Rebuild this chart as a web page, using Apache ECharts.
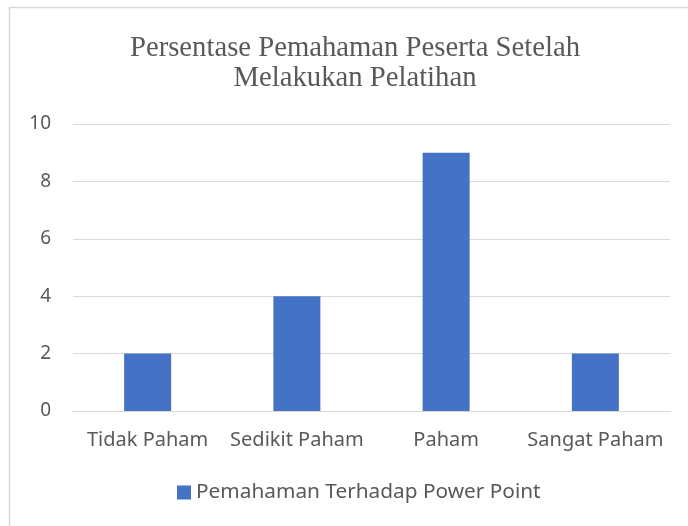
<!DOCTYPE html>
<html>
<head>
<meta charset="utf-8">
<script src="https://cdn.jsdelivr.net/npm/echarts@6/dist/echarts.min.js"></script>
<style>
  html, body { margin: 0; padding: 0; background: #fff; }
  #chart { width: 688px; height: 526px; }
</style>
</head>
<body>
<div id="chart"></div>
<script>
// data
const titleLines = ['Persentase Pemahaman Peserta Setelah', 'Melakukan Pelatihan'];
const categories = ['Tidak Paham', 'Sedikit Paham', 'Paham', 'Sangat Paham'];
const seriesName = 'Pemahaman Terhadap Power Point';
const values = [2, 4, 9, 2];
const yTicks = { min: 0, max: 10, interval: 2 };

const myChart = echarts.init(document.getElementById('chart'));
const textColor = '#595959';
const sans = 'Noto Sans';

let option = {
  animation: false,
  title: {
    text: titleLines.join('\n'),
    left: 350,
    textAlign: 'center',
    top: 28,
    textStyle: {
      fontFamily: 'Liberation Serif',
      fontSize: 28.7,
      fontWeight: 'normal',
      color: textColor,
      lineHeight: 30
    }
  },
  graphic: [{
    type: 'rect',
    shape: { x: 9.5, y: 7.5, width: 700, height: 540 },
    style: { fill: 'none', stroke: '#d9d9d9', lineWidth: 1.5 },
    silent: true
  }],
  legend: {
    data: [seriesName],
    bottom: 18,
    left: 172,
    itemWidth: 14,
    itemHeight: 14,
    itemGap: 6,
    icon: 'rect',
    textStyle: { fontFamily: sans, fontSize: 20.8, color: textColor }
  },
  grid: {
    left: 73,
    right: 18,
    top: 124,
    bottom: 115
  },
  xAxis: {
    type: 'category',
    data: categories,
    axisLine: { lineStyle: { color: '#d9d9d9', width: 1 } },
    axisTick: { show: false },
    axisLabel: {
      fontFamily: sans,
      fontSize: 20,
      color: textColor,
      margin: 19,
      interval: 0
    }
  },
  yAxis: {
    type: 'value',
    min: yTicks.min,
    max: yTicks.max,
    interval: yTicks.interval,
    axisLine: { show: false },
    axisTick: { show: false },
    splitLine: { lineStyle: { color: '#d9d9d9', width: 1 } },
    axisLabel: {
      fontFamily: sans,
      fontSize: 19,
      color: textColor,
      margin: 22
    }
  },
  series: [{
    name: seriesName,
    type: 'bar',
    data: values,
    barWidth: 47,
    itemStyle: { color: '#4472c4' }
  }]
};
myChart.setOption(option);
</script>
</body>
</html>
